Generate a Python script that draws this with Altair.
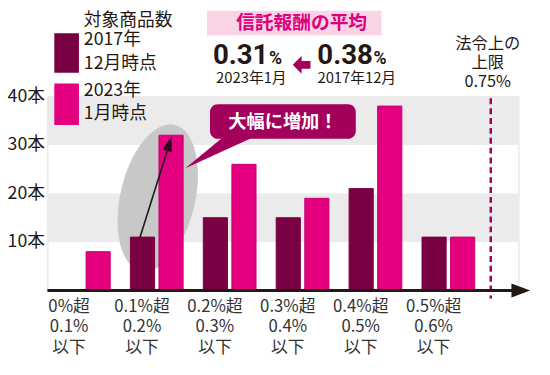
import altair as alt
import pandas as pd

# ---------------- data ----------------
categories = ["0%超\n0.1%\n以下", "0.1%超\n0.2%\n以下", "0.2%超\n0.3%\n以下",
              "0.3%超\n0.4%\n以下", "0.4%超\n0.5%\n以下", "0.5%超\n0.6%\n以下"]
series = ["2017年12月時点", "2023年1月時点"]
values_2017 = [0, 11, 15, 15, 21, 11]
values_2023 = [8, 32, 26, 19, 38, 11]
y_ticks = [10, 20, 30, 40]
band_lo = [10, 30]
band_hi = [20, 40]
legend_title = "対象商品数"
legend_lines = [["2017年", "12月時点"], ["2023年", "1月時点"]]

DARK_BAR = "#7a0044"
PINK = "#e4007f"
MAGENTA = "#a3005c"
TXT = "#231815"
JP = "Noto Sans CJK JP"
NUM = "Roboto"

W, H = 478, 197

rows = []
for c, a, b in zip(categories, values_2017, values_2023):
    rows.append({"cat": c, "series": series[0], "value": a})
    rows.append({"cat": c, "series": series[1], "value": b})
df = pd.DataFrame(rows)
bands = pd.DataFrame({"lo": band_lo, "hi": band_hi})
one = alt.Data(values=[{"k": 1}])

y_axis = alt.Axis(values=y_ticks, labelExpr="datum.value + '本'", domain=False, ticks=False,
                  grid=False, title=None, labelFont=JP, labelFontSize=18, labelColor=TXT,
                  labelPadding=3)
y_scale = alt.Scale(domain=[0, 40], nice=False)

band_layer = alt.Chart(bands).mark_rect(color="#ebebeb").encode(
    y=alt.Y("lo:Q", scale=y_scale, axis=y_axis),
    y2="hi:Q",
    x=alt.value(0), x2=alt.value(W),
)


def path_point(path, x, y, color, angle=0):
    return alt.Chart(one).mark_point(shape=path, size=4, filled=True, color=color,
                                     opacity=1, strokeWidth=0, angle=angle).encode(
        x=alt.value(x), y=alt.value(y))


ellipse = path_point(
    "M0,-76 C20.99,-76 38,-41.97 38,0 C38,41.97 20.99,76 0,76 "
    "C-20.99,76 -38,41.97 -38,0 C-38,-41.97 -20.99,-76 0,-76 Z",
    112, 103, "#c8c8c8", angle=13)

bars = alt.Chart(df).mark_bar(strokeWidth=1).encode(
    x=alt.X("cat:N", sort=categories,
            scale=alt.Scale(paddingInner=0, paddingOuter=0.23, align=0),
            axis=alt.Axis(title=None, domain=False, ticks=False, labelAngle=0,
                          labelExpr="split(datum.label, '\\n')", labelFont=JP,
                          labelFontSize=17, labelColor="#333333", labelLineHeight=21,
                          labelPadding=8, labelOffset=-15)),
    xOffset=alt.XOffset("series:N", sort=series,
                        scale=alt.Scale(paddingInner=0.155, paddingOuter=0.353)),
    y=alt.Y("value:Q", scale=y_scale, axis=y_axis),
    color=alt.Color("series:N", scale=alt.Scale(domain=series, range=[DARK_BAR, PINK]), legend=None),
    stroke=alt.Stroke("series:N", scale=alt.Scale(domain=series, range=[DARK_BAR, "#c4006c"]), legend=None),
)

arrow_line = alt.Chart(one).mark_rule(color="#1a1a1a", strokeWidth=1.6).encode(
    x=alt.value(94), y=alt.value(143), x2=alt.value(122), y2=alt.value(54))
arrow_head = path_point("M0,0 L-5,15 L5,15 Z", 126, 41, "#2a0a18", angle=17.4)

callout_box = alt.Chart(one).mark_rect(color=MAGENTA, cornerRadius=8).encode(
    x=alt.value(165), x2=alt.value(313), y=alt.value(8), y2=alt.value(43))
callout_tail = path_point("M180,40 L212,40 L140,73 Z", 0, 0, MAGENTA)

dash = alt.Chart(one).mark_rule(color=MAGENTA, strokeWidth=2.5, strokeDash=[6, 4]).encode(
    x=alt.value(450), y=alt.value(2), y2=alt.value(205))

axis_line = alt.Chart(one).mark_rule(color=TXT, strokeWidth=3).encode(
    x=alt.value(0), x2=alt.value(474), y=alt.value(H))
axis_head = path_point("M0,0 L-19,-7 L-19,7 Z", 490, H, TXT)

header_box = alt.Chart(one).mark_rect(color="#fad3e7").encode(
    x=alt.value(162), x2=alt.value(339), y=alt.value(-87), y2=alt.value(-62))


def txt(s, x, y, size=17, weight="normal", color=TXT, align="left", font=JP, baseline="middle"):
    return alt.Chart(one).mark_text(fontSize=size, fontWeight=weight, color=color, align=align,
                                    font=font, baseline=baseline).encode(
        x=alt.value(x), y=alt.value(y), text=alt.value(s))


texts = [
    txt("大幅に増加！", 239, 26, size=18.5, weight="bold", color="white", align="center"),
    txt("信託報酬の平均", 258, -74, size=19, weight="bold", color="#dc007c", align="center"),
    txt("0.31", 168, -33, size=28, weight="bold", font=NUM, baseline="alphabetic"),
    txt("%", 225, -33, size=18, weight="bold", font=NUM, baseline="alphabetic"),
    txt("0.38", 274, -33, size=28, weight="bold", font=NUM, baseline="alphabetic"),
    txt("%", 331, -33, size=18, weight="bold", font=NUM, baseline="alphabetic"),
    txt("2023年1月", 207, -19, size=15, align="center"),
    txt("2017年12月", 314, -19, size=15, align="center"),
    txt("法令上の", 447, -53, size=16.5, align="center"),
    txt("上限", 447, -34, size=16.5, align="center"),
    txt("0.75%", 447, -15, size=16.5, align="center"),
    txt(legend_title, 37, -76, size=18),
    txt(legend_lines[0][0], 37, -57, size=18),
    txt(legend_lines[0][1], 37, -33, size=18),
    txt(legend_lines[1][0], 37, -5, size=18),
    txt(legend_lines[1][1], 37, 18, size=18),
]

left_arrow = path_point("M-9,0 L0,-9 L0,-4 L9,-4 L9,4 L0,4 L0,9 Z", 258, -32, MAGENTA)

leg_dark = alt.Chart(one).mark_rect(color=DARK_BAR).encode(
    x=alt.value(7), x2=alt.value(32), y=alt.value(-64), y2=alt.value(-24))
leg_pink = alt.Chart(one).mark_rect(color=PINK).encode(
    x=alt.value(7), x2=alt.value(32), y=alt.value(-13), y2=alt.value(29))

chart = alt.layer(
    band_layer, ellipse, bars, arrow_line, arrow_head, callout_tail, callout_box,
    dash, axis_line, axis_head, header_box, left_arrow, leg_dark, leg_pink, *texts
).resolve_scale(y="shared").properties(
    width=W, height=H,
    autosize=alt.AutoSizeParams(type="none"),
    padding={"left": 40, "top": 87, "right": 24, "bottom": 80},
).configure_view(stroke=None).configure(background="white")

chart.save("out.html", embed_options={"renderer": "svg", "actions": False})
